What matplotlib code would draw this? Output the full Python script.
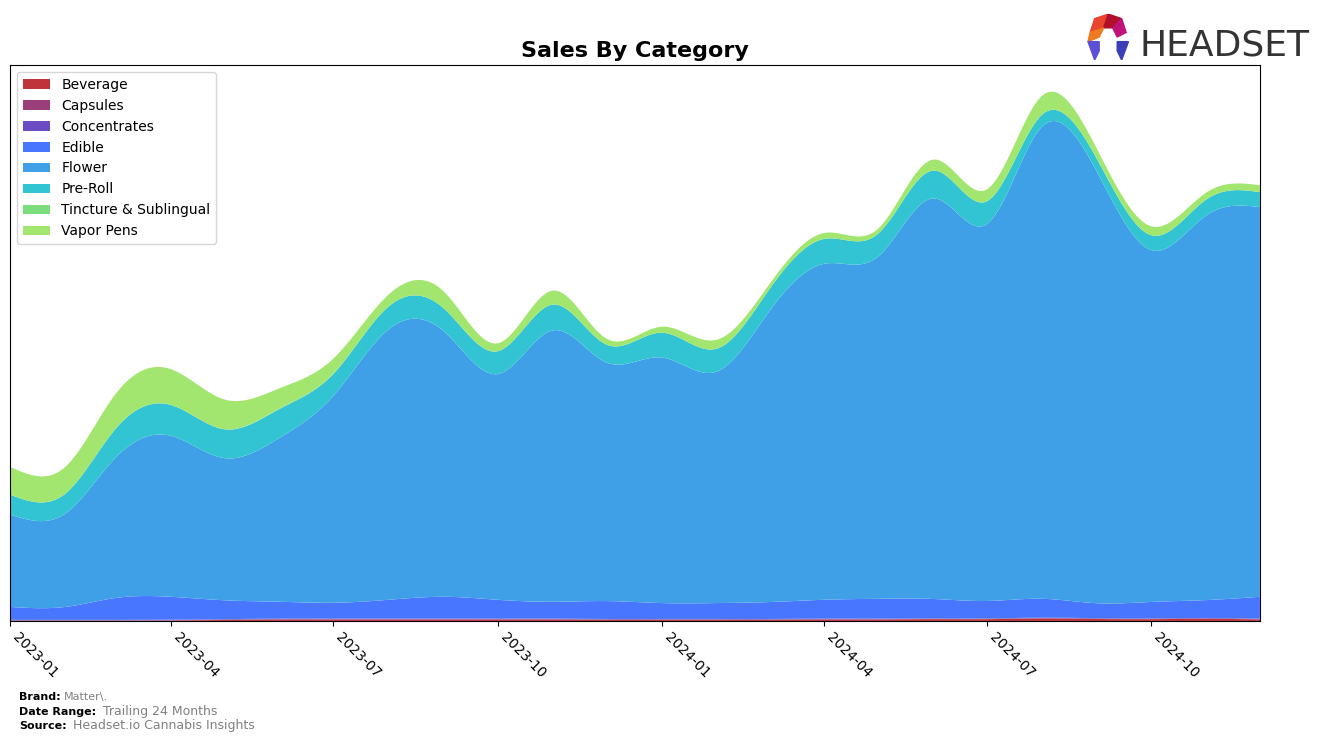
import numpy as np
import pandas as pd
import matplotlib
matplotlib.use("Agg")
import matplotlib.pyplot as plt
import matplotlib.dates as mdates
from matplotlib.patches import Polygon

# monthly sales by category (arbitrary units)
months = pd.date_range("2023-01-01", "2024-12-01", freq="MS")
categories = ["Beverage", "Capsules", "Concentrates", "Edible", "Flower",
              "Pre-Roll", "Tincture & Sublingual", "Vapor Pens"]
beverage = [0.3, 0.3, 0.3, 0.5, 1.0, 1.5, 1.5, 1.5, 1.5, 1.5, 1.5, 1.2,
            1.2, 1.2, 1.2, 1.5, 1.5, 1.8, 1.8, 2.5, 2.0, 1.8, 2.2, 1.5]
capsules = [0.3, 0.3, 0.3, 0.3, 0.3, 0.3, 0.3, 0.3, 0.3, 0.3, 0.3, 0.3,
            0.3, 0.3, 0.3, 0.3, 0.3, 0.3, 0.3, 0.3, 0.3, 0.3, 0.3, 0.3]
concentrates = [0.5, 0.5, 0.5, 0.5, 0.5, 0.5, 0.5, 0.5, 0.5, 0.5, 0.5, 0.5,
                0.5, 0.5, 0.5, 0.5, 0.5, 0.5, 0.5, 0.5, 0.5, 0.5, 0.5, 0.5]
edible = [13, 13, 22, 23, 19, 17, 16, 19, 22, 19, 17, 18,
          16, 16, 17, 19, 20, 19.5, 17.5, 19, 15, 16.5, 18, 22]
flower = [93, 94, 141, 162, 143, 165, 208, 272, 267, 227, 273, 240,
          247, 233, 292, 338, 344, 403, 379, 475, 433, 354, 387, 392]
preroll = [20, 20, 29, 31, 29, 29, 22, 23, 23, 23, 26, 18,
           25, 23, 22, 25, 23, 28, 23, 12, 13, 15, 16, 15]
tincture = [0, 0, 0, 0, 0, 0.8, 0.5, 0, 0, 0, 0, 0,
            0, 0, 0, 0, 0, 0, 0, 0, 0, 0, 0, 0]
vapor = [28, 27, 35, 36, 30, 20, 15, 12, 17, 8, 14, 6,
         6, 9, 5, 6, 5, 11, 12, 19, 10, 9, 7, 7]

colors = ["#C0333A", "#9B3F7A", "#6A4BC3", "#4876FF", "#3FA0E8",
          "#33C4D3", "#7BDC7B", "#A3E66F"]


def cubic_spline(x, y, xs):
    """Natural cubic spline through (x, y), evaluated at xs."""
    x = np.asarray(x, float)
    y = np.asarray(y, float)
    n = len(x)
    h = np.diff(x)
    A = np.zeros((n, n))
    b = np.zeros(n)
    A[0, 0] = A[-1, -1] = 1
    for i in range(1, n - 1):
        A[i, i - 1] = h[i - 1]
        A[i, i] = 2 * (h[i - 1] + h[i])
        A[i, i + 1] = h[i]
        b[i] = 3 * ((y[i + 1] - y[i]) / h[i] - (y[i] - y[i - 1]) / h[i - 1])
    c = np.linalg.solve(A, b)
    idx = np.clip(np.searchsorted(x, xs) - 1, 0, n - 2)
    dx = xs - x[idx]
    bb = (y[idx + 1] - y[idx]) / h[idx] - h[idx] * (2 * c[idx] + c[idx + 1]) / 3
    dd = (c[idx + 1] - c[idx]) / (3 * h[idx])
    return y[idx] + bb * dx + c[idx] * dx ** 2 + dd * dx ** 3


series = [beverage, capsules, concentrates, edible, flower, preroll, tincture, vapor]
x_num = mdates.date2num(months)
x_fine = np.linspace(x_num[0], x_num[-1], 600)
smooth = [np.clip(cubic_spline(x_num, s, x_fine), 0, None) for s in series]

fig = plt.figure(figsize=(13.24, 7.41), dpi=100)
ax = fig.add_axes([0.0076, 0.162, 0.944, 0.750])
ax.stackplot(mdates.num2date(x_fine), smooth, labels=categories, colors=colors)

ax.set_xlim(months[0], months[-1])
ax.set_ylim(0, np.sum(smooth, axis=0).max() * 1.05)
ax.set_yticks([])
ax.xaxis.set_major_locator(mdates.MonthLocator(bymonth=[1, 4, 7, 10]))
ax.xaxis.set_major_formatter(mdates.DateFormatter("%Y-%m"))
plt.setp(ax.get_xticklabels(), rotation=-45, ha="left")
ax.set_title("Sales By Category", fontsize=16, fontweight="bold")
ax.legend(loc="upper left", fontsize=10)

# footer
fig.text(0.0143, 0.056, "Brand:", fontsize=8, fontweight="bold")
fig.text(0.048, 0.056, "Matter\\.", fontsize=8, color="gray")
fig.text(0.0143, 0.035, "Date Range:", fontsize=8, fontweight="bold")
fig.text(0.078, 0.035, "Trailing 24 Months", fontsize=9, color="gray")
fig.text(0.0143, 0.016, "Source:", fontsize=8, fontweight="bold")
fig.text(0.055, 0.016, "Headset.io Cannabis Insights", fontsize=9, color="gray")

# logo
logo = fig.add_axes([0.820, 0.919, 0.034, 0.062])
logo.set_xlim(0, 10)
logo.set_ylim(0, 10)
logo.axis("off")
pieces = [
    ([(1, 6), (2, 9), (5, 10), (4, 7)], "#E8452C"),
    ([(5, 10), (8, 9), (6, 7), (4, 7)], "#B0102A"),
    ([(8, 9), (9, 6), (7, 5), (6, 7)], "#C0137A"),
    ([(1, 6), (4, 7), (3, 5), (0.5, 4)], "#F07A22"),
    ([(0.5, 4), (3, 4), (3, 2), (2, 0)], "#5B4FD6"),
    ([(9.5, 4), (7, 4), (7, 2), (8, 0)], "#3A3FB8"),
]
for pts, col in pieces:
    logo.add_patch(Polygon(pts, closed=True, color=col))
fig.text(0.861, 0.925, "HEADSET", fontsize=26, color="#333333", family="DejaVu Sans")

fig.savefig("out.png", dpi=100)
